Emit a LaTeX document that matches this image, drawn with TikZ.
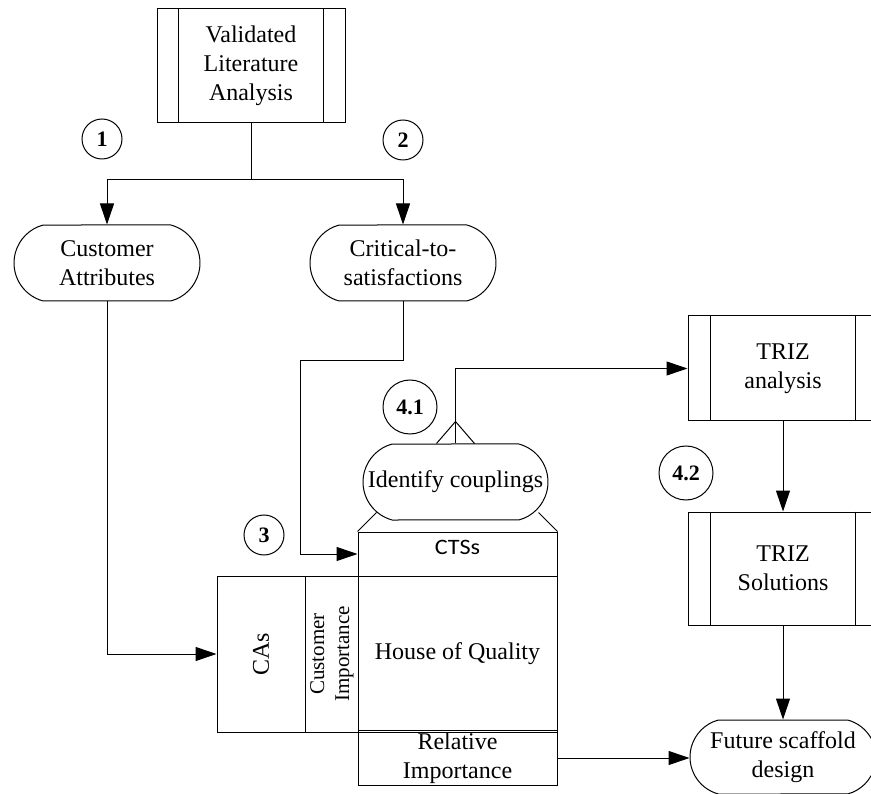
\documentclass[tikz,border=0pt]{standalone}
\usepackage{fontspec}
\setmainfont{Liberation Serif}
\newfontfamily\ctsfont{Carlito}
\usetikzlibrary{shapes.misc,arrows.meta,calc}
\begin{document}
\begin{tikzpicture}[x=1pt,y=-1pt,
  base/.style={draw, line width=1pt, font=\fontsize{24}{29}\selectfont, align=center, inner sep=2pt},
  pill/.style={base, rounded rectangle, rounded rectangle arc length=150, minimum height=76pt},
  proc/.style={base, rectangle, minimum width=190pt},
  cell/.style={base, rectangle},
  num/.style={draw, circle, line width=1pt, font=\fontsize{22}{26}\selectfont\bfseries, inner sep=0pt},
  arr/.style={line width=1pt, -{Triangle[length=21pt,width=14pt]}},
  con/.style={line width=1pt}]
\path[use as bounding box] (0,0) rectangle (871,794);
\clip (0,0) rectangle (871,794);

% process boxes
\node[proc, minimum width=188pt, minimum height=114pt] (val) at (251,66) {Validated\\Literature\\Analysis};
\node[proc, minimum height=105pt] (trizA) at (783,368.5) {TRIZ\\analysis};
\node[proc, minimum height=113pt] (trizS) at (783,568.5) {TRIZ\\Solutions};
\foreach \n/\o in {val/22, trizA/23, trizS/23}{
  \draw[con] ([xshift=\o pt]\n.north west) -- ([xshift=\o pt]\n.south west);
  \draw[con] ([xshift=-\o pt]\n.north east) -- ([xshift=-\o pt]\n.south east);
}

% terminals
\node[pill, minimum width=190pt] (ca) at (107,263) {Customer\\Attributes};
\node[pill, minimum width=190pt] (cts) at (403,263) {Critical-to-\\satisfactions};
\node[pill, minimum width=189pt] (idc) at (455.5,482) {Identify couplings};
\node[pill, minimum width=190pt, minimum height=74pt] (fsd) at (783,757) {Future scaffold\\design};

% house of quality
\node[cell, minimum width=199pt, minimum height=44pt, font=\ctsfont\fontsize{22}{26}\selectfont, text depth=13pt] (ctsb) at (457.5,554) {\scalebox{1.1}[1]{CTSs}};
\node[cell, minimum width=88pt, minimum height=156pt] (casb) at (261,654) {\rotatebox{90}{CAs}};
\node[cell, minimum width=53pt, minimum height=156pt, inner sep=0pt] (cib) at (331.5,654) {\rotatebox{90}{\fontsize{21}{25}\selectfont\begin{tabular}{@{}c@{}}Customer\\Importance\end{tabular}}};
\node[cell, minimum width=199pt, minimum height=156pt] (hoq) at (457.5,654) {House of Quality};
\node[cell, minimum width=199pt, minimum height=52pt] (rib) at (457.5,758) {Relative\\Importance};

% roof lines and apex
\draw[con] (ctsb.north west) -- ++(19,-19);
\draw[con] (ctsb.north east) -- ++(-19,-19);
\draw[con] ($(idc.north)+(-19,0)$) -- ($(idc.north)+(0,-22)$) -- ($(idc.north)+(19,0)$);

% numbered circles
\node[num, minimum size=40pt] (n1) at (102,139) {1};
\node[num, minimum size=40pt] (n2) at (403,140) {2};
\node[num, minimum size=40pt] (n3) at (264,535) {3};
\node[num, minimum size=54pt] (n41) at (410,407) {4.1};
\node[num, minimum size=54pt] (n42) at (686,473) {4.2};

% connectors
\coordinate (sp) at (251,180);
\draw[con] (val.south) -- (sp);
\draw[arr] (sp) -| (ca.north);
\draw[arr] (sp) -| (cts.north);
\draw[arr] (ca.south) |- (casb.west);
\coordinate (b1) at (300,361);
\draw[arr] (cts.south) |- (b1) |- (ctsb.west);
\draw[arr] (idc.north) |- (trizA.west);
\draw[arr] (trizA.south) -- (trizS.north);
\draw[arr] (trizS.south) -- (fsd.north);
\draw[arr] (rib.east) -- (rib.east -| fsd.west);
\end{tikzpicture}
\end{document}
